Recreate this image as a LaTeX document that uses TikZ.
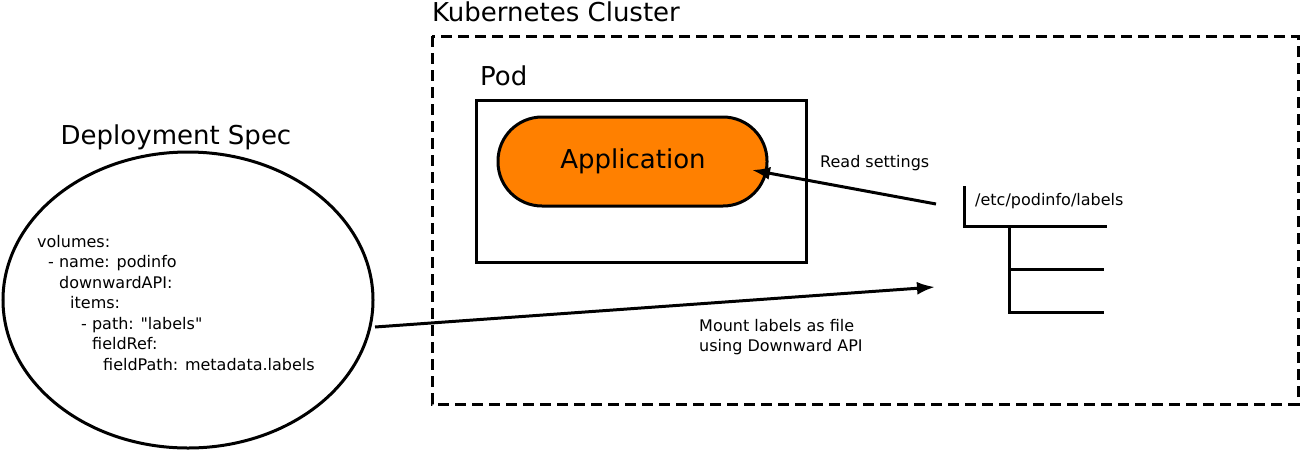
\documentclass[tikz,border=0pt]{standalone}
\usepackage{fontspec}
\setmainfont{DejaVu Sans}
\newfontfamily\qf{DejaVu Sans}
\usetikzlibrary{arrows.meta,shapes.geometric}
\definecolor{appor}{HTML}{FF8000}
\begin{document}
\begin{tikzpicture}[x=1pt,y=-1pt,
  thk/.style={line width=3pt},
  arr/.style={line width=3pt,-{Latex[length=18pt,width=13pt]}},
  big/.style={font=\fontsize{26}{30}\selectfont,inner sep=0pt},
  sm/.style={font=\fontsize{16}{20.5}\selectfont,inner sep=0pt,align=left}]
\useasboundingbox (0,0) rectangle (1300,451);
\draw[thk,dash pattern=on 11pt off 6pt] (432,36) rectangle (1298,404);
\node[big,anchor=west] (kc) at (432,12) {Kubernetes Cluster};
\node[big,anchor=west] (podl) at (480,76) {Pod};
\draw[thk] (476,100) rectangle (806,262);
\node[thk,draw,fill=appor,rounded corners=44pt,minimum width=269pt,minimum height=89pt] (app) at (632.5,161.5) {};
\node[big] at (633,161) {Application};
\node[sm,anchor=west] (rs) at (820,163) {Read settings};
\coordinate (rsStart) at (936,204);
\draw[arr] (rsStart) -- (752,170);
\node[sm,anchor=west] (path) at (975,201) {/etc/podinfo/labels};
\draw[thk] (964,186) -- (964,226) -- (1107,226);
\draw[thk] (1009,226) -- (1009,312) -- (1104,312);
\draw[thk] (1009,269) -- (1104,269);
\node[thk,draw,ellipse,minimum width=370pt,minimum height=296pt] (spec) at (188,300) {};
\node[big] (dsl) at (176,137) {Deployment Spec};
\node[sm,anchor=north west] (yaml) at (37,235) {volumes:\\
\hspace*{11pt}- name: podinfo\\
\hspace*{22pt}downwardAPI:\\
\hspace*{33pt}items:\\
\hspace*{44pt}- path: {\qf"}labels{\qf"}\\
\hspace*{55pt}fieldRef:\\
\hspace*{66pt}fieldPath: metadata.labels};
\coordinate (mt) at (935,287);
\draw[arr] (375,327) -- (mt);
\node[sm,anchor=north west] (ml) at (699,319) {Mount labels as file\\using Downward API};
\end{tikzpicture}
\end{document}
